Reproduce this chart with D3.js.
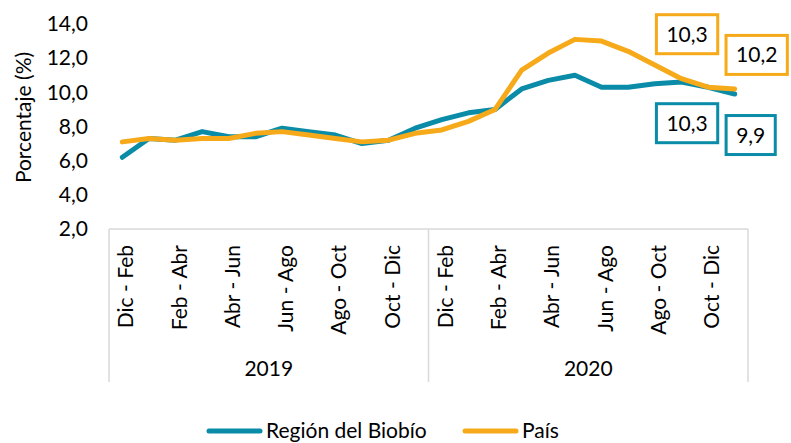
<!DOCTYPE html>
<html>
<head>
<meta charset="utf-8">
<script src="https://cdn.jsdelivr.net/npm/d3@7/dist/d3.min.js"></script>
<style>
  html, body { margin: 0; padding: 0; background: #fff; }
  svg { display: block; }
</style>
</head>
<body>
<svg id="chart" width="791" height="443"></svg>
<script>
// Rolling quarters per year (every other one is labelled)
const periods = ['Dic - Feb', 'Ene - Mar', 'Feb - Abr', 'Mar - May', 'Abr - Jun', 'May - Jul',
  'Jun - Ago', 'Jul - Sep', 'Ago - Oct', 'Sep - Nov', 'Oct - Dic', 'Nov - Ene'];
const years = ['2019', '2020'];

const biobio = [6.2, 7.3, 7.2, 7.7, 7.4, 7.4, 7.9, 7.7, 7.5, 7.0, 7.2, 7.9,
  8.4, 8.8, 9.0, 10.2, 10.7, 11.0, 10.3, 10.3, 10.5, 10.6, 10.3, 9.9];
const pais = [7.1, 7.3, 7.2, 7.3, 7.3, 7.6, 7.7, 7.5, 7.3, 7.1, 7.2, 7.6,
  7.8, 8.3, 9.0, 11.3, 12.3, 13.1, 13.0, 12.4, 11.6, 10.8, 10.3, 10.2];

const yTicks = [2, 4, 6, 8, 10, 12, 14];

// labelled points: series, index, box offset from the point
const labelled = [
  { series: 'pais', index: 22, dx: -21, dy: -53 },
  { series: 'pais', index: 23, dx: 22, dy: -34 },
  { series: 'biobio', index: 22, dx: -21, dy: 36 },
  { series: 'biobio', index: 23, dx: 16, dy: 41 }
];

const COLORS = { biobio: '#0a8ba7', pais: '#f6aa1a', axis: '#d9d9d9', text: '#000' };
const FONT = 'Lato, "Open Sans", sans-serif';
const FONT_SIZE = 21;

const svg = d3.select('#chart');
const comma = d3.formatLocale({ decimal: ',', thousands: '.', grouping: [3], currency: ['', ''] }).format('.1f');

// category ids "year|period"
const keys = [];
years.forEach(y => periods.forEach(p => keys.push(y + '|' + p)));

const x = d3.scaleBand().domain(keys).range([109, 748]);
const y = d3.scaleLinear().domain([2, 14]).range([229, 24]);
const cx = k => x(k) + x.bandwidth() / 2;

const axisTop = y(2);
const axisBottom = 382;

// y axis labels (no axis line)
const yAxis = svg.append('g')
  .attr('transform', 'translate(88,0)')
  .call(d3.axisLeft(y).tickValues(yTicks).tickFormat(comma).tickSize(0).tickPadding(0));
yAxis.select('.domain').remove();
yAxis.selectAll('text')
  .attr('font-family', FONT)
  .attr('font-size', FONT_SIZE)
  .attr('fill', COLORS.text);

svg.append('text')
  .attr('transform', `translate(31,${(y(2) + y(14)) / 2 - 9}) rotate(-90)`)
  .attr('text-anchor', 'middle')
  .attr('font-family', FONT)
  .attr('font-size', FONT_SIZE)
  .attr('fill', COLORS.text)
  .text('Porcentaje (%)');

// category axis frame: top line plus year separators
const frame = svg.append('g').attr('stroke', COLORS.axis).attr('stroke-width', 1.5);
frame.append('line')
  .attr('x1', x.range()[0]).attr('x2', x.range()[1])
  .attr('y1', axisTop).attr('y2', axisTop);
const yearEdges = years.map(yr => x(yr + '|' + periods[0])).concat([x.range()[1]]);
frame.selectAll('line.sep')
  .data(yearEdges)
  .join('line')
  .attr('class', 'sep')
  .attr('x1', d => d).attr('x2', d => d)
  .attr('y1', axisTop).attr('y2', axisBottom);

// period labels, every other category
const xAxis = svg.append('g')
  .attr('transform', `translate(0,${axisTop})`)
  .call(d3.axisBottom(x)
    .tickValues(keys.filter((k, i) => i % 2 === 0))
    .tickFormat(k => k.split('|')[1])
    .tickSize(0));
xAxis.select('.domain').remove();
xAxis.selectAll('text')
  .attr('font-family', FONT)
  .attr('font-size', FONT_SIZE)
  .attr('fill', COLORS.text)
  .attr('text-anchor', 'end')
  .attr('transform', 'rotate(-90)')
  .attr('x', -16)
  .attr('y', 11)
  .attr('dy', 0);

// year labels
svg.selectAll('text.year')
  .data(years)
  .join('text')
  .attr('class', 'year')
  .attr('x', (yr, i) => (yearEdges[i] + yearEdges[i + 1]) / 2)
  .attr('y', 376)
  .attr('text-anchor', 'middle')
  .attr('font-family', FONT)
  .attr('font-size', FONT_SIZE)
  .attr('fill', COLORS.text)
  .text(d => d);

// lines
const series = { biobio, pais };
const line = d3.line().x((d, i) => cx(keys[i])).y(d => y(d));
['biobio', 'pais'].forEach(name => {
  svg.append('path')
    .datum(series[name])
    .attr('d', line)
    .attr('fill', 'none')
    .attr('stroke', COLORS[name])
    .attr('stroke-width', 5)
    .attr('stroke-linejoin', 'round')
    .attr('stroke-linecap', 'round');
});

// boxed data labels
labelled.forEach(l => {
  const v = series[l.series][l.index];
  const px = cx(keys[l.index]) + l.dx;
  const py = y(v) + l.dy;
  const g = svg.append('g').attr('transform', `translate(${px},${py})`);
  const t = g.append('text')
    .attr('text-anchor', 'middle')
    .attr('dy', '0.36em')
    .attr('font-family', FONT)
    .attr('font-size', FONT_SIZE)
    .attr('fill', COLORS.text)
    .text(comma(v));
  const w = t.node().getComputedTextLength() + 20;
  g.insert('rect', 'text')
    .attr('x', -w / 2).attr('y', -19.5)
    .attr('width', w).attr('height', 39)
    .attr('fill', '#fff')
    .attr('stroke', COLORS[l.series])
    .attr('stroke-width', 3);
});

// legend
const legendItems = [
  { name: 'biobio', label: 'Región del Biobío', x: 207 },
  { name: 'pais', label: 'País', x: 463 }
];
const legend = svg.selectAll('g.legend')
  .data(legendItems)
  .join('g')
  .attr('class', 'legend')
  .attr('transform', d => `translate(${d.x},431)`);
legend.append('line')
  .attr('x1', 2).attr('x2', 53)
  .attr('stroke', d => COLORS[d.name])
  .attr('stroke-width', 5)
  .attr('stroke-linecap', 'round');
legend.append('text')
  .attr('x', 59)
  .attr('y', 7)
  .attr('font-family', FONT)
  .attr('font-size', FONT_SIZE)
  .attr('fill', COLORS.text)
  .text(d => d.label);
</script>
</body>
</html>
